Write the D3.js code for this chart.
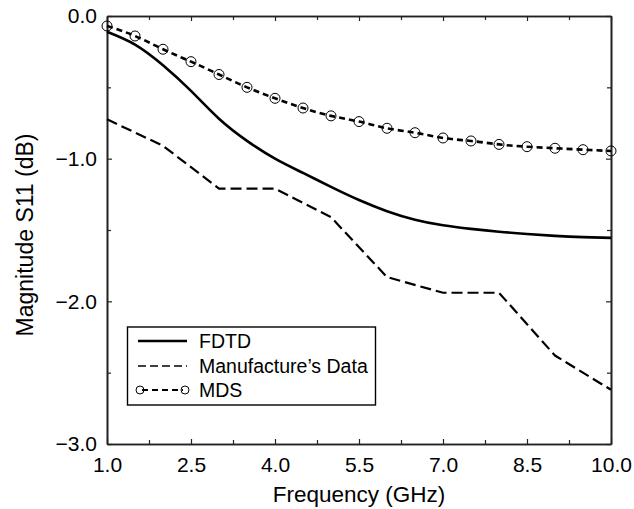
<!DOCTYPE html>
<html>
<head>
<meta charset="utf-8">
<script src="https://cdn.jsdelivr.net/npm/d3@7"></script>
<style>
  html, body { margin: 0; padding: 0; background: #fff; }
  svg { display: block; font-family: "Liberation Sans", Arial, Helvetica, sans-serif; }
</style>
</head>
<body>
<svg id="chart" width="634" height="509"></svg>
<script>
// ---- data ----
const freq = [1.0, 1.5, 2.0, 2.5, 3.0, 3.5, 4.0, 4.5, 5.0, 5.5, 6.0, 6.5, 7.0, 7.5, 8.0, 8.5, 9.0, 9.5, 10.0];
const fdtd = [-0.11, -0.20, -0.345, -0.525, -0.72, -0.875, -1.0, -1.10, -1.198, -1.29, -1.368, -1.428, -1.467, -1.492, -1.512, -1.528, -1.541, -1.55, -1.555];
const mds = [-0.07, -0.14, -0.233, -0.32, -0.41, -0.50, -0.577, -0.645, -0.70, -0.74, -0.787, -0.818, -0.855, -0.876, -0.90, -0.916, -0.927, -0.937, -0.946];
const mfgFreq = [1, 2, 3, 4, 5, 6, 7, 8, 9, 10];
const mfg = [-0.724, -0.91, -1.21, -1.21, -1.41, -1.83, -1.94, -1.94, -2.38, -2.62];
const xTicks = [1.0, 2.5, 4.0, 5.5, 7.0, 8.5, 10.0];
const xMinor = [1.75, 3.25, 4.75, 6.25, 7.75, 9.25];
const yTicks = [0.0, -1.0, -2.0, -3.0];
const yMinor = [-0.5, -1.5, -2.5];
const legendLabels = ["FDTD", "Manufacture\u2019s Data", "MDS"];

// ---- layout ----
const L = 107, R = 611, T = 16, B = 444;
const svg = d3.select("#chart");
const x = d3.scaleLinear().domain([1, 10]).range([L, R]);
const y = d3.scaleLinear().domain([-3, 0]).range([B, T]);
const fmt = d3.format(".1f");
const fmtY = v => (v < 0 ? "\u2212" : "") + fmt(Math.abs(v));

function styleAxis(g) {
  g.selectAll(".domain").attr("stroke", "#222").attr("stroke-width", 1.6);
  g.selectAll(".tick line").attr("stroke", "#222").attr("stroke-width", 1.2);
  g.selectAll("text").attr("fill", "#000").style("font-size", "21px")
    .style("font-family", "\"Liberation Sans\", Arial, Helvetica, sans-serif");
}

// bottom
svg.append("g").attr("transform", `translate(0,${B})`)
  .call(d3.axisBottom(x).tickValues(xTicks).tickFormat(fmt).tickSize(-5).tickSizeOuter(0).tickPadding(13))
  .call(styleAxis);
svg.append("g").attr("transform", `translate(0,${B})`)
  .call(d3.axisBottom(x).tickValues(xMinor).tickFormat("").tickSize(-4).tickSizeOuter(0))
  .call(styleAxis);
// top
svg.append("g").attr("transform", `translate(0,${T})`)
  .call(d3.axisTop(x).tickValues(xTicks).tickFormat("").tickSize(-5).tickSizeOuter(0))
  .call(styleAxis);
svg.append("g").attr("transform", `translate(0,${T})`)
  .call(d3.axisTop(x).tickValues(xMinor).tickFormat("").tickSize(-4).tickSizeOuter(0))
  .call(styleAxis);
// left
svg.append("g").attr("transform", `translate(${L},0)`)
  .call(d3.axisLeft(y).tickValues(yTicks).tickFormat(fmtY).tickSize(-5).tickSizeOuter(0).tickPadding(10))
  .call(styleAxis);
svg.append("g").attr("transform", `translate(${L},0)`)
  .call(d3.axisLeft(y).tickValues(yMinor).tickFormat("").tickSize(-4).tickSizeOuter(0))
  .call(styleAxis);
// right
svg.append("g").attr("transform", `translate(${R},0)`)
  .call(d3.axisRight(y).tickValues(yTicks).tickFormat("").tickSize(-5).tickSizeOuter(0))
  .call(styleAxis);
svg.append("g").attr("transform", `translate(${R},0)`)
  .call(d3.axisRight(y).tickValues(yMinor).tickFormat("").tickSize(-4).tickSizeOuter(0))
  .call(styleAxis);

// axis titles
svg.append("text").attr("x", (L + R) / 2).attr("y", 502).attr("text-anchor", "middle")
  .style("font-size", "22.5px").text("Frequency (GHz)");
svg.append("text").attr("transform", `translate(33,${(T + B) / 2 + 5}) rotate(-90)`)
  .attr("text-anchor", "middle").style("font-size", "23px").text("Magnitude S11 (dB)");

// ---- series ----
const lineSmooth = d3.line().x(d => x(d[0])).y(d => y(d[1])).curve(d3.curveNatural);
const lineStraight = d3.line().x(d => x(d[0])).y(d => y(d[1]));

svg.append("path").datum(d3.zip(mfgFreq, mfg)).attr("d", lineStraight)
  .attr("fill", "none").attr("stroke", "#000").attr("stroke-width", 2.2)
  .attr("stroke-dasharray", "11,5");

svg.append("path").datum(d3.zip(freq, fdtd)).attr("d", lineSmooth)
  .attr("fill", "none").attr("stroke", "#000").attr("stroke-width", 2.6);

svg.append("path").datum(d3.zip(freq, mds)).attr("d", lineSmooth)
  .attr("fill", "none").attr("stroke", "#000").attr("stroke-width", 2.6)
  .attr("stroke-dasharray", "6,4");

svg.append("g").selectAll("circle").data(d3.zip(freq, mds)).join("circle")
  .attr("cx", d => x(d[0])).attr("cy", d => y(d[1])).attr("r", 5)
  .attr("fill", "none").attr("stroke", "#000").attr("stroke-width", 1);

// ---- legend ----
const lg = svg.append("g");
lg.append("rect").attr("x", 127.5).attr("y", 327).attr("width", 248).attr("height", 78)
  .attr("fill", "#fff").attr("stroke", "#000").attr("stroke-width", 1.4);
const rowY = [341, 366, 390];
const x0 = 138, x1 = 187;
lg.append("line").attr("x1", x0).attr("x2", x1).attr("y1", rowY[0]).attr("y2", rowY[0])
  .attr("stroke", "#000").attr("stroke-width", 2.6);
lg.append("line").attr("x1", x0).attr("x2", x1).attr("y1", rowY[1]).attr("y2", rowY[1])
  .attr("stroke", "#000").attr("stroke-width", 1.6).attr("stroke-dasharray", "8,4");
lg.append("line").attr("x1", x0 + 4).attr("x2", x1 - 4).attr("y1", rowY[2]).attr("y2", rowY[2])
  .attr("stroke", "#000").attr("stroke-width", 1.8).attr("stroke-dasharray", "6,4");
[x0 + 2, x1 - 2].forEach(cx => lg.append("circle").attr("cx", cx).attr("cy", rowY[2]).attr("r", 4)
  .attr("fill", "none").attr("stroke", "#000").attr("stroke-width", 1));
legendLabels.forEach((t, i) => lg.append("text").attr("x", 199).attr("y", rowY[i])
  .attr("dy", "0.35em").style("font-size", "19.5px").text(t));
</script>
</body>
</html>
